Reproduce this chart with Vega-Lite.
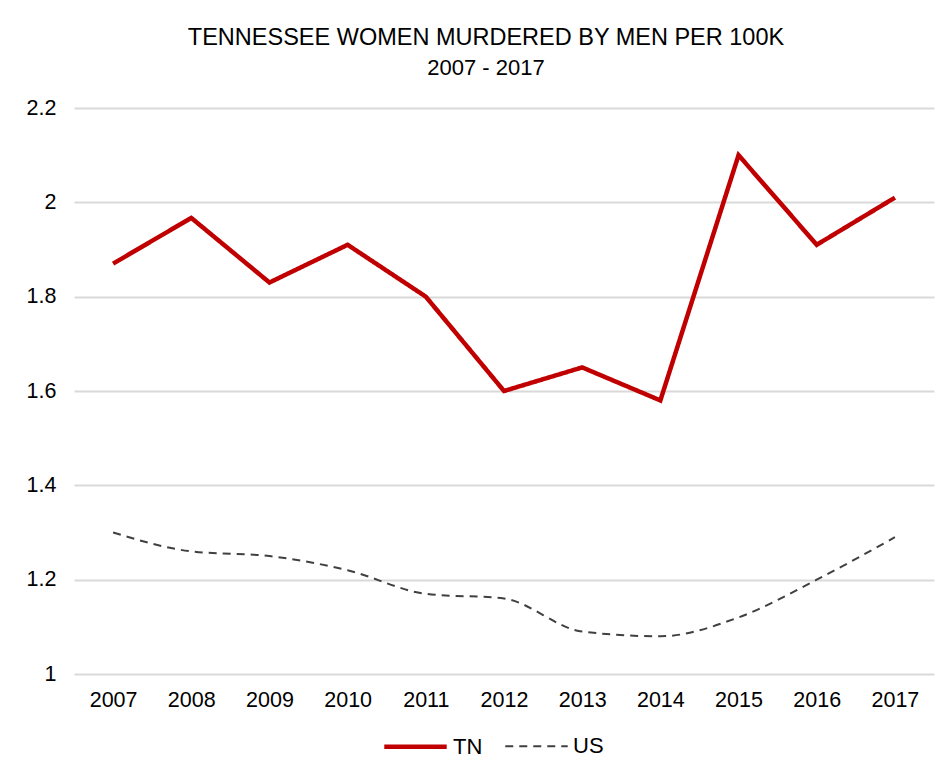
{
  "$schema": "https://vega.github.io/schema/vega-lite/v6.json",
  "width": 860,
  "height": 566,
  "autosize": "none",
  "padding": {"left": 74, "top": 108, "right": 17, "bottom": 105},
  "background": "white",
  "title": {
    "text": "TENNESSEE WOMEN MURDERED BY MEN PER 100K",
    "subtitle": "2007 - 2017",
    "font": "Liberation Sans",
    "fontSize": 23.5,
    "fontWeight": "normal",
    "color": "#000000",
    "subtitleFont": "Liberation Sans",
    "subtitleFontSize": 22,
    "subtitleColor": "#000000",
    "subtitlePadding": 9,
    "anchor": "middle",
    "dx": -18,
    "offset": 18
  },
  "config": {
    "view": {"stroke": null},
    "axis": {
      "labelFont": "Liberation Sans",
      "labelFontSize": 21.5,
      "labelColor": "#000000",
      "gridColor": "#d9d9d9",
      "gridWidth": 2,
      "domain": false,
      "ticks": false
    },
    "legend": {
      "labelFont": "Liberation Sans",
      "labelFontSize": 22,
      "labelColor": "#000000"
    }
  },
  "data": {
    "values": [
      {"year": "2007", "series": "TN", "rate": 1.87},
      {"year": "2008", "series": "TN", "rate": 1.967},
      {"year": "2009", "series": "TN", "rate": 1.83},
      {"year": "2010", "series": "TN", "rate": 1.91},
      {"year": "2011", "series": "TN", "rate": 1.80},
      {"year": "2012", "series": "TN", "rate": 1.60},
      {"year": "2013", "series": "TN", "rate": 1.65},
      {"year": "2014", "series": "TN", "rate": 1.58},
      {"year": "2015", "series": "TN", "rate": 2.10},
      {"year": "2016", "series": "TN", "rate": 1.91},
      {"year": "2017", "series": "TN", "rate": 2.01},
      {"year": "2007", "series": "US", "rate": 1.30},
      {"year": "2008", "series": "US", "rate": 1.26},
      {"year": "2009", "series": "US", "rate": 1.25},
      {"year": "2010", "series": "US", "rate": 1.22},
      {"year": "2011", "series": "US", "rate": 1.17},
      {"year": "2012", "series": "US", "rate": 1.16},
      {"year": "2013", "series": "US", "rate": 1.09},
      {"year": "2014", "series": "US", "rate": 1.08},
      {"year": "2015", "series": "US", "rate": 1.12},
      {"year": "2016", "series": "US", "rate": 1.20},
      {"year": "2017", "series": "US", "rate": 1.29}
    ]
  },
  "encoding": {
    "x": {
      "field": "year",
      "type": "ordinal",
      "scale": {"type": "point", "padding": 0.5},
      "axis": {"title": null, "labelAngle": 0, "labelPadding": 15, "grid": false}
    },
    "y": {
      "field": "rate",
      "type": "quantitative",
      "scale": {"domain": [1, 2.2], "nice": false},
      "axis": {"title": null, "values": [1, 1.2, 1.4, 1.6, 1.8, 2, 2.2], "format": "~g", "labelPadding": 18}
    },
    "color": {
      "field": "series",
      "type": "nominal",
      "scale": {"domain": ["TN", "US"], "range": ["#c00000", "#404040"]},
      "legend": {
        "title": null,
        "orient": "none",
        "legendX": 308,
        "legendY": 605,
        "direction": "horizontal",
        "symbolType": "stroke",
        "symbolSize": 3900,
        "columnPadding": 18,
        "labelOffset": 4
      }
    },
    "strokeDash": {
      "field": "series",
      "type": "nominal",
      "scale": {"domain": ["TN", "US"], "range": [[1, 0], [8, 6]]},
      "legend": {
        "title": null,
        "orient": "none",
        "legendX": 308,
        "legendY": 605,
        "direction": "horizontal",
        "symbolType": "stroke",
        "symbolSize": 3900,
        "columnPadding": 18,
        "labelOffset": 4
      }
    },
    "strokeWidth": {
      "field": "series",
      "type": "nominal",
      "scale": {"domain": ["TN", "US"], "range": [4.5, 2]},
      "legend": {
        "title": null,
        "orient": "none",
        "legendX": 308,
        "legendY": 605,
        "direction": "horizontal",
        "symbolType": "stroke",
        "symbolSize": 3900,
        "columnPadding": 18,
        "labelOffset": 4
      }
    }
  },
  "layer": [
    {
      "transform": [{"filter": "datum.series === 'TN'"}],
      "mark": {"type": "line", "interpolate": "linear"}
    },
    {
      "transform": [{"filter": "datum.series === 'US'"}],
      "mark": {"type": "line", "interpolate": "monotone"}
    }
  ]
}
